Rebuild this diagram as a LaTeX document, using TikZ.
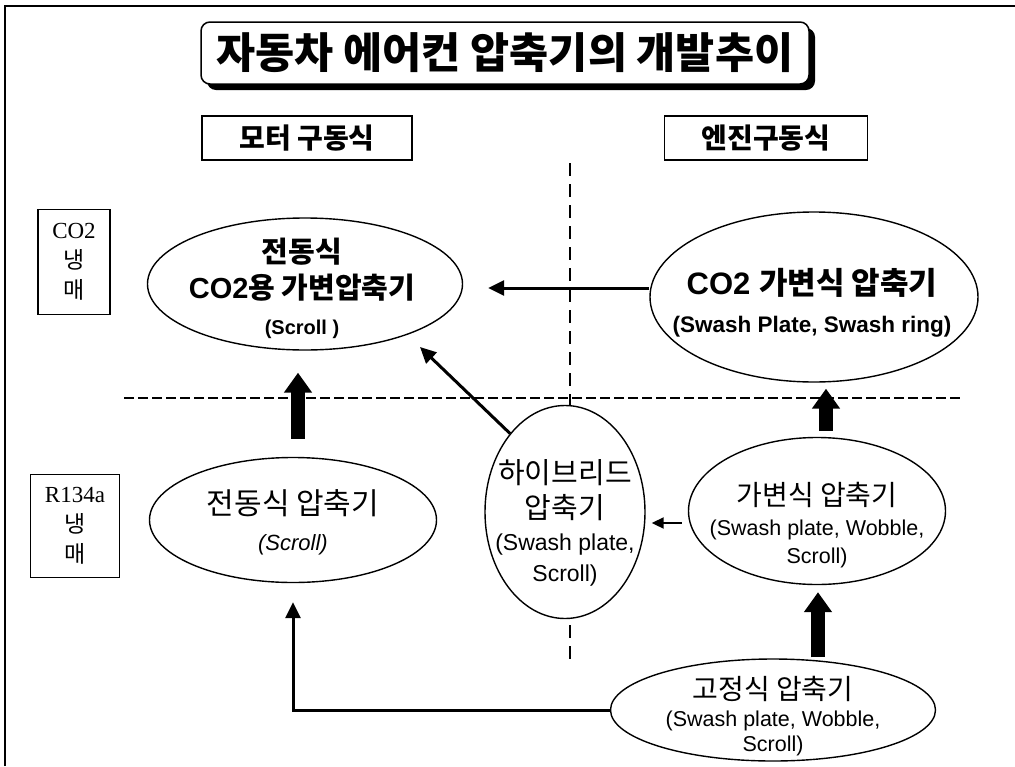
\documentclass[tikz,border=0pt]{standalone}
\usepackage{fontspec}
\setmainfont{Liberation Sans}
\newfontfamily\kr{Noto Sans CJK KR}
\newfontfamily\tms{Liberation Serif}
\usetikzlibrary{shapes.geometric,arrows.meta,calc,shadows}
\begin{document}
\begin{tikzpicture}[x=1pt,y=-1pt,
  ell/.style={draw, line width=1.4pt, ellipse, inner sep=0pt, fill=white},
  txt/.style={align=center, inner sep=0pt},
  hdrbox/.style={draw, line width=1.4pt, minimum width=210pt, minimum height=44pt, inner sep=0pt, font=\fontsize{28}{30}\selectfont\kr\bfseries},
  refbox/.style={draw, line width=1.2pt, inner sep=0pt, align=center, font=\fontsize{23}{30}\selectfont},
  blk/.style={line width=14pt, -{Triangle[width=27pt,length=20pt]}},
  thk/.style={line width=3pt, -{Triangle[width=15pt,length=16pt]}},
  thn/.style={line width=2pt, -{Triangle[width=11pt,length=12pt]}},
  sep/.style={line width=1.3pt, dash pattern=on 10pt off 4pt},
  vsep/.style={line width=2.2pt, dash pattern=on 13pt off 8pt}
]
\useasboundingbox (0,0) rectangle (1015,766);
\fill[white] (0,0) rectangle (1015,766);
\draw[line width=2.5pt] (5,766) -- (5,6) -- (1015,6);

% title
\node[draw, line width=1.5pt, fill=white, rounded corners=9pt, minimum width=608pt, minimum height=62pt, inner sep=0pt,
      drop shadow={shadow xshift=6pt, shadow yshift=-6pt, opacity=1, fill=black},
      font=\fontsize{42.5}{45}\selectfont\kr\bfseries] (title) at (505,53) {자동차 에어컨 압축기의 개발추이};

% column headers
\node[hdrbox] (motor) at (307,138) {모터 구동식};
\node[hdrbox, minimum width=203pt] (engine) at (766,138) {엔진구동식};

% refrigerant labels
\node[refbox, minimum width=72pt, minimum height=105pt] (co2r) at (74,262) {{\tms CO2}\\{\kr 냉}\\{\kr 매}};
\node[refbox, minimum width=89pt, minimum height=103pt] (r134) at (75,526) {{\tms R134a}\\{\kr 냉}\\{\kr 매}};

% separators
\draw[sep] (124,398) -- (960,398);
\draw[vsep] (570,163) -- (570,665);

% ellipses
\node[ell, minimum width=315pt, minimum height=132pt] (e1) at (305,284) {};
\node[ell, minimum width=328pt, minimum height=170pt] (e2) at (814,297) {};
\node[ell, minimum width=287pt, minimum height=125pt] (e3) at (293,520) {};
\node[ell, minimum width=160pt, minimum height=213pt] (e4) at (565,512) {};
\node[ell, minimum width=257pt, minimum height=147pt] (e5) at (817,511) {};
\node[ell, minimum width=325pt, minimum height=102pt] (e6) at (773,710) {};

% ellipse texts
\node[txt, font=\fontsize{29}{36}\selectfont\bfseries] (t1) at (302,288)
  {{\kr 전동식}\\CO2{\kr 용 가변압축기}\\{\fontsize{20}{22}\selectfont (Scroll )}};
\node[txt, font=\fontsize{31}{38}\selectfont\bfseries] (t2) at (812,303)
  {CO2 {\kr 가변식 압축기}\\{\fontsize{22.5}{24}\selectfont (Swash Plate, Swash ring)}};
\node[txt, font=\fontsize{30}{36}\selectfont] (t3) at (293,522)
  {{\kr 전동식 압축기}\\{\fontsize{22}{24}\selectfont\itshape (Scroll)}};
\node[txt, font=\fontsize{29}{35}\selectfont] (t4) at (565,523)
  {{\kr 하이브리드}\\{\kr 압축기}\\[-3pt]{\fontsize{23}{25}\selectfont (Swash plate,}\\[-4pt]{\fontsize{23}{25}\selectfont Scroll)}};
\node[txt, font=\fontsize{28}{32}\selectfont] (t5) at (817,525)
  {{\kr 가변식 압축기}\\[-2pt]{\fontsize{21.5}{25}\selectfont (Swash plate, Wobble,}\\[-4pt]{\fontsize{21.5}{25}\selectfont Scroll)}};
\node[txt, font=\fontsize{28}{30}\selectfont] (t6) at (773,716)
  {{\kr 고정식 압축기}\\[-3pt]{\fontsize{21.5}{25}\selectfont (Swash plate, Wobble,}\\[-5pt]{\fontsize{21.5}{25}\selectfont Scroll)}};

% connectors
\draw[thk] (e2.west |- 0,288) -- ($(e1.east |- 0,288)+(25,0)$);
\draw[blk] ($(e3.north)+(5,-18)$) -- ($(e3.north |- e1.south)+(5,22)$);
\coordinate (d1) at ($(e1.center)+(115,63)$);
\draw[thk] (e4.125) -- (d1);
\draw[blk] ($(e5.north)+(9,-6)$) -- ($(e5.north |- e2.south)+(9,6)$);
\draw[thn] ($(e5.west)+(-6,12)$) -- ($(e4.east)+(6,11)$);
\draw[blk] ($(e6.north)+(45,-1)$) -- ($(e6.north |- e5.south)+(45,7)$);
\draw[thk] (e6.west) -| ($(e3.south)+(0,19)$);
\end{tikzpicture}
\end{document}
